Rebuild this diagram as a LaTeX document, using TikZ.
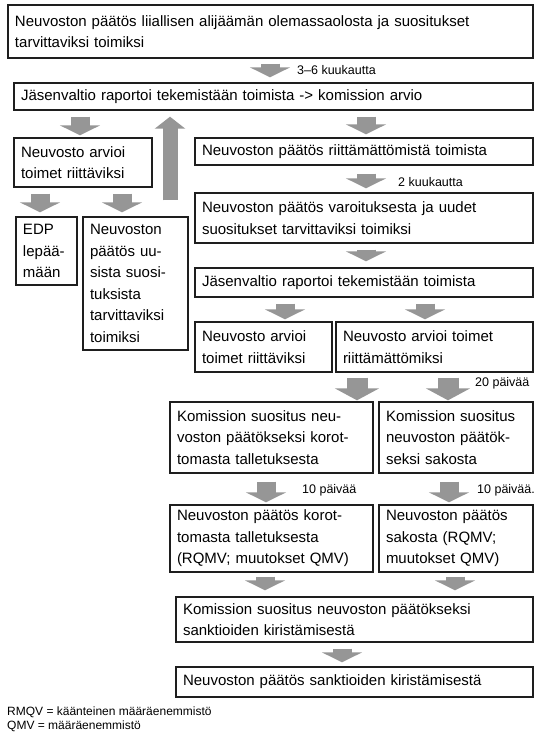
\documentclass[tikz,border=0pt]{standalone}
\usepackage{fontspec}
\setmainfont{Liberation Sans}
\usetikzlibrary{arrows.meta}
\definecolor{arrowgray}{HTML}{969696}
\definecolor{boxline}{HTML}{1E1E1E}
\tikzset{
  box/.style={draw=boxline, line width=1.4pt, inner xsep=7pt, inner ysep=0pt,
    align=left, font=\fontsize{15}{21.5}\selectfont, anchor=center},
  lab/.style={font=\fontsize{12.5}{14}\selectfont, anchor=west, inner sep=0pt},
  leg/.style={font=\fontsize{12}{14}\selectfont, anchor=west, inner sep=0pt},
  blk/.style={draw=arrowgray, line width=19pt, -{Triangle[width=40pt,length=10pt]}},
  bigblk/.style={draw=arrowgray, line width=21pt, -{Triangle[width=44pt,length=12pt]}},
  upblk/.style={draw=arrowgray, line width=15pt, -{Triangle[width=30pt,length=12pt]}},
}
\begin{document}
\begin{tikzpicture}[x=1pt,y=-1pt]
\useasboundingbox[fill=white] (0,0) rectangle (543,740);

\node[box, text width=511pt, minimum height=53pt] (b1) at (270.5,31.5)
  {Neuvoston päätös liiallisen alijäämän olemassaolosta ja suositukset\\tarvittaviksi toimiksi};
\node[box, text width=505pt, minimum height=27pt] (b2) at (273.5,96.5)
  {Jäsenvaltio raportoi tekemistään toimista -> komission arvio};
\node[box, text width=124pt, minimum height=49pt] (b3) at (83,162.5)
  {Neuvosto arvioi\\toimet riittäviksi};
\node[box, text width=324pt, minimum height=27pt] (b4) at (364,151.5)
  {Neuvoston päätös riittämättömistä toimista};
\node[box, text width=324pt, minimum height=50pt] (b5) at (364,218)
  {Neuvoston päätös varoituksesta ja uudet\\suositukset tarvittaviksi toimiksi};
\node[box, text width=324pt, minimum height=29pt] (b6) at (364,282.5)
  {Jäsenvaltio raportoi tekemistään toimista};
\node[box, text width=123pt, minimum height=50pt] (b7) at (263.5,347)
  {Neuvosto arvioi\\toimet riittäviksi};
\node[box, text width=183pt, minimum height=50pt] (b8) at (434.5,347)
  {Neuvosto arvioi toimet\\riittämättömiksi};
\node[box, text width=47pt, minimum height=68pt] (bedp) at (46.5,251)
  {EDP\\lepää-\\mään};
\node[box, text width=91pt, minimum height=133pt] (buus) at (135.5,283.5)
  {Neuvoston\\päätös uu-\\sista suosi-\\tuksista\\tarvittaviksi\\toimiksi};
\node[box, text width=189pt, minimum height=71pt] (b9) at (271.5,437.5)
  {Komission suositus neu-\\voston päätökseksi korot-\\tomasta talletuksesta};
\node[box, text width=140pt, minimum height=71pt] (b10) at (456,437.5)
  {Komission suositus\\neuvoston päätök-\\seksi sakosta};
\node[box, text width=189pt, minimum height=67pt] (b11) at (271.5,538.5)
  {Neuvoston päätös korot-\\tomasta talletuksesta\\(RQMV; muutokset QMV)};
\node[box, text width=140pt, minimum height=67pt] (b11b) at (456,538.5)
  {Neuvoston päätös\\sakosta (RQMV;\\muutokset QMV)};
\node[box, text width=343pt, minimum height=45pt] (b12) at (354.5,619.5)
  {Komission suositus neuvoston päätökseksi\\sanktioiden kiristämisestä};
\node[box, text width=343pt, minimum height=30pt] (b13) at (354.5,682)
  {Neuvoston päätös sanktioiden kiristämisestä};

% arrow axes
\coordinate (x1) at (270,0);
\coordinate (x2) at (80,0);
\coordinate (xu) at (170,0);
\coordinate (x3) at (366,0);
\coordinate (x6) at (285,0);
\coordinate (x7) at (425,0);
\coordinate (x8) at (40,0);
\coordinate (x9) at (122,0);
\coordinate (x10) at (357,0);
\coordinate (x11) at (448,0);
\coordinate (x12) at (266,0);
\coordinate (x13) at (449,0);
\coordinate (x14) at (265,0);
\coordinate (x15) at (455,0);
\coordinate (x16) at (342,0);

\draw[blk, shorten <=5pt, shorten >=5pt] (b1.south -| x1) -- (b2.north -| x1);
\draw[blk, shorten <=6pt, shorten >=2pt] (b2.south -| x2) -- (b3.north -| x2);
\draw[upblk, shorten <=16pt, shorten >=6pt] (buus.north -| xu) -- (b2.south -| xu);
\draw[blk, shorten <=6pt, shorten >=3pt] (b2.south -| x3) -- (b4.north -| x3);
\draw[blk, shorten <=8pt, shorten >=4pt] (b4.south -| x3) -- (b5.north -| x3);
\draw[blk, shorten <=6pt, shorten >=6pt] (b5.south -| x3) -- (b6.north -| x3);
\draw[blk, shorten <=6pt, shorten >=2pt] (b6.south -| x6) -- (b7.north -| x6);
\draw[blk, shorten <=6pt, shorten >=2pt] (b6.south -| x7) -- (b8.north -| x7);
\draw[blk, shorten <=6pt, shorten >=4pt] (b3.south -| x8) -- (bedp.north -| x8);
\draw[blk, shorten <=6pt, shorten >=4pt] (b3.south -| x9) -- (buus.north -| x9);
\draw[bigblk, shorten <=5pt, shorten >=1pt] (b7.south -| x10) -- (b9.north -| x10);
\draw[bigblk, shorten <=5pt, shorten >=1pt] (b8.south -| x11) -- (b10.north -| x11);
\draw[blk, shorten <=8pt, shorten >=2pt] (b9.south -| x12) -- (b11.north -| x12);
\draw[blk, shorten <=8pt, shorten >=2pt] (b10.south -| x13) -- (b11b.north -| x13);
\draw[blk, shorten <=4pt, shorten >=6pt] (b11.south -| x14) -- (b12.north -| x14);
\draw[blk, shorten <=4pt, shorten >=6pt] (b11b.south -| x15) -- (b12.north -| x15);
\draw[blk, shorten <=6pt, shorten >=4pt] (b12.south -| x16) -- (b13.north -| x16);

\node[lab] (l1) at (297,70) {3–6 kuukautta};
\node[lab] (l2) at (398,182) {2 kuukautta};
\node[lab] (l3) at (475,383) {20 päivää};
\node[lab] (l4) at (302,490) {10 päivää};
\node[lab] (l5) at (477,490) {10 päivää.};

\node[leg] (leg1) at (7,712) {RMQV = käänteinen määräenemmistö};
\node[leg] (leg2) at (7,726) {QMV = määräenemmistö};
\end{tikzpicture}
\end{document}
